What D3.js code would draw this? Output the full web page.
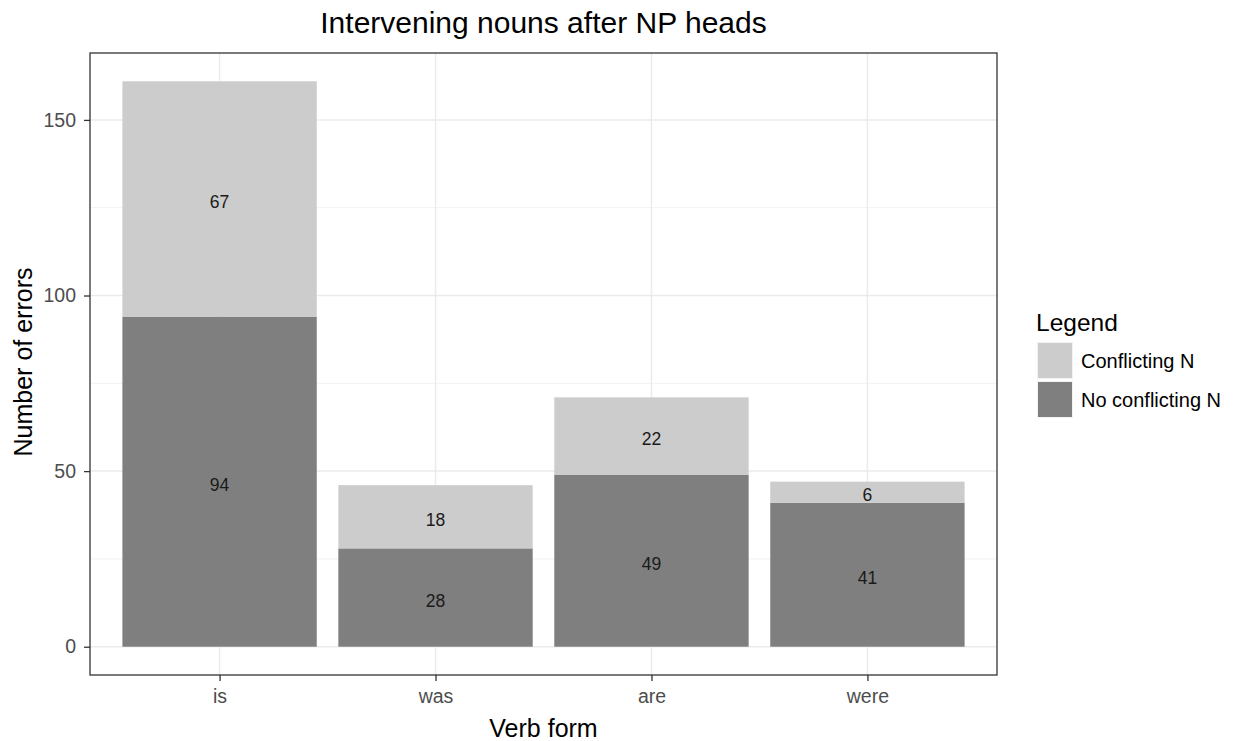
<!DOCTYPE html>
<html>
<head>
<meta charset="utf-8">
<script src="https://cdn.jsdelivr.net/npm/d3@7"></script>
<style>
  body { margin: 0; background: #fff; }
  text { font-family: "Liberation Sans", Arial, sans-serif; }
</style>
</head>
<body>
<svg id="chart" width="1238" height="741"></svg>
<script>
// data
const verbs = ["is", "was", "are", "were"];
const noConflicting = [94, 28, 49, 41];
const conflicting = [67, 18, 22, 6];
const groups = ["No conflicting N", "Conflicting N"];
const legendOrder = ["Conflicting N", "No conflicting N"];
const yTicks = [0, 50, 100, 150];
const yMinor = [25, 75, 125];

const colors = { "Conflicting N": "#cccccc", "No conflicting N": "#7f7f7f" };

const panel = { left: 90, top: 53, right: 997, bottom: 675 };

const svg = d3.select("#chart");

// discrete axis with ggplot style expansion (0.6 each side)
const x = d3.scaleLinear().domain([0.4, 4.6]).range([panel.left, panel.right]);
const xPos = v => x(verbs.indexOf(v) + 1);
const barW = x(1.9) - x(1);

const y = d3.scaleLinear().domain([-8.05, 169.05]).range([panel.bottom, panel.top]);

// build stacks
const rows = verbs.map((v, i) => ({ verb: v, "No conflicting N": noConflicting[i], "Conflicting N": conflicting[i] }));
const stack = d3.stack().keys(groups)(rows);

// grid
const grid = svg.append("g");
grid.selectAll("line.minor").data(yMinor).enter().append("line")
  .attr("x1", panel.left).attr("x2", panel.right)
  .attr("y1", d => y(d)).attr("y2", d => y(d))
  .attr("stroke", "#f2f2f2").attr("stroke-width", 1);
grid.selectAll("line.major").data(yTicks).enter().append("line")
  .attr("x1", panel.left).attr("x2", panel.right)
  .attr("y1", d => y(d)).attr("y2", d => y(d))
  .attr("stroke", "#ebebeb").attr("stroke-width", 1.5);
grid.selectAll("line.vx").data(verbs).enter().append("line")
  .attr("y1", panel.top).attr("y2", panel.bottom)
  .attr("x1", d => xPos(d)).attr("x2", d => xPos(d))
  .attr("stroke", "#ebebeb").attr("stroke-width", 1.5);

// bars
stack.forEach(layer => {
  svg.append("g").selectAll("rect").data(layer).enter().append("rect")
    .attr("x", d => xPos(d.data.verb) - barW / 2)
    .attr("width", barW)
    .attr("y", d => y(d[1]))
    .attr("height", d => y(d[0]) - y(d[1]))
    .attr("fill", colors[layer.key]);
});

// labels in the middle of each segment
stack.forEach(layer => {
  svg.append("g").selectAll("text").data(layer).enter().append("text")
    .attr("x", d => xPos(d.data.verb))
    .attr("y", d => y((d[0] + d[1]) / 2))
    .attr("dy", "0.52em")
    .attr("text-anchor", "middle")
    .attr("font-size", 17.5)
    .attr("fill", "#1a1a1a")
    .text(d => d.data[layer.key]);
});

// panel border
svg.append("rect")
  .attr("x", panel.left).attr("y", panel.top)
  .attr("width", panel.right - panel.left).attr("height", panel.bottom - panel.top)
  .attr("fill", "none").attr("stroke", "#333").attr("stroke-width", 1.3);

// axes
const yAxis = svg.append("g")
  .attr("transform", `translate(${panel.left},0)`)
  .call(d3.axisLeft(y).tickValues(yTicks).tickSize(6).tickPadding(8));
const xAxis = svg.append("g")
  .attr("transform", `translate(0,${panel.bottom})`)
  .call(d3.axisBottom(x).tickValues([1, 2, 3, 4]).tickFormat(d => verbs[d - 1]).tickSize(6).tickPadding(8));
[xAxis, yAxis].forEach(a => {
  a.select(".domain").remove();
  a.selectAll(".tick line").attr("stroke", "#333").attr("stroke-width", 1.3);
  a.selectAll(".tick text").attr("fill", "#4d4d4d").attr("font-size", 19.5)
    .style("font-family", "'Liberation Sans', Arial, sans-serif");
});

// titles
svg.append("text")
  .attr("x", (panel.left + panel.right) / 2).attr("y", 33)
  .attr("text-anchor", "middle").attr("font-size", 30).attr("fill", "#000")
  .text("Intervening nouns after NP heads");
svg.append("text")
  .attr("x", (panel.left + panel.right) / 2).attr("y", 737)
  .attr("text-anchor", "middle").attr("font-size", 25).attr("fill", "#000")
  .text("Verb form");
svg.append("text")
  .attr("transform", `translate(32,${(panel.top + panel.bottom) / 2 - 2}) rotate(-90)`)
  .attr("text-anchor", "middle").attr("font-size", 25).attr("fill", "#000")
  .text("Number of errors");

// legend
const lg = svg.append("g").attr("transform", "translate(1036,0)");
lg.append("text").attr("x", 0).attr("y", 331).attr("font-size", 24.5).attr("fill", "#000").text("Legend");
const keys = lg.selectAll("g.key").data(legendOrder).enter().append("g")
  .attr("transform", (d, i) => `translate(0,${342 + i * 39})`);
keys.append("rect").attr("x", 1).attr("y", 0).attr("width", 36).attr("height", 37)
  .attr("fill", "#f2f2f2");
keys.append("rect").attr("x", 2).attr("y", 1).attr("width", 34).attr("height", 35)
  .attr("fill", d => colors[d]);
keys.append("text").attr("x", 45).attr("y", 19).attr("dy", "0.35em")
  .attr("font-size", 20).attr("fill", "#000").text(d => d);
</script>
</body>
</html>
